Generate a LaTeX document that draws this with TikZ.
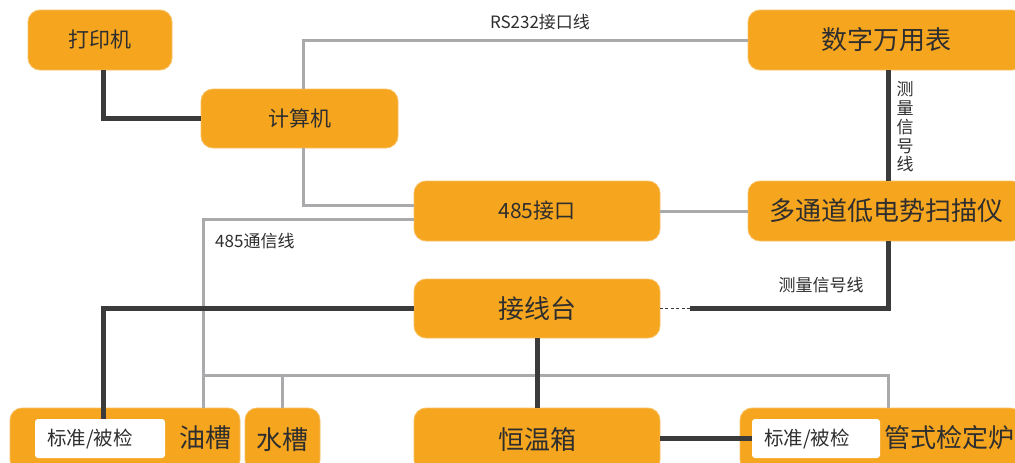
\documentclass[tikz,border=0pt]{standalone}
\usepackage{fontspec}
\setmainfont{Noto Sans CJK SC}
\definecolor{boxorange}{HTML}{F6A51F}
\definecolor{darkwire}{HTML}{3B3B3B}
\definecolor{graywire}{HTML}{AAAAAD}
\definecolor{inktext}{HTML}{2E2E2E}
\tikzset{
    unitbox/.style={rounded corners=12pt, fill=boxorange, draw=boxorange!70!white, line width=0.8pt, text=inktext, inner sep=0pt},
    tagbox/.style={rounded corners=3pt, fill=white, text=inktext, inner ysep=0pt, inner xsep=12pt, text width=106pt, align=left, minimum height=39pt, font=\fontsize{19.5}{22}\selectfont},
    bigtext/.style={font=\fontsize{26}{30}\selectfont},
    midtext/.style={font=\fontsize{21}{24}\selectfont},
    wirelabel/.style={text=inktext, inner sep=0pt, font=\fontsize{17}{18.75}\selectfont},
    sigwire/.style={draw=darkwire, line width=5pt},
    buswire/.style={draw=graywire, line width=3pt},
}
\begin{document}
\begin{tikzpicture}[x=1pt, y=-1pt]
    \useasboundingbox (0,0) rectangle (1015,463);
    \clip (0,0) rectangle (1015,463);

    % instruments (pixel positions, y downwards)
    \node[unitbox, midtext, minimum width=144pt, minimum height=60pt] (printer) at (100,40) {打印机};
    \node[unitbox, midtext, minimum width=197pt, minimum height=59pt] (computer) at (299.5,118.5) {计算机};
    \node[unitbox, bigtext, minimum width=276pt, minimum height=60pt] (meter) at (886,40) {数字万用表};
    \node[unitbox, midtext, minimum width=246pt, minimum height=60pt] (port) at (537,211) {485接口};
    \node[unitbox, bigtext, minimum width=276pt, minimum height=60pt] (scanner) at (886,211) {多通道低电势扫描仪};
    \node[unitbox, bigtext, minimum width=246pt, minimum height=59pt] (terminal) at (537,308.5) {接线台};

    % baths and furnace, cut off by the lower edge
    \node[unitbox, minimum width=230pt, minimum height=64pt] (oilbath) at (125,440) {};
    \node[unitbox, bigtext, minimum width=75pt, minimum height=64pt] (waterbath) at (282.5,440) {\raisebox{1pt}{水槽}};
    \node[unitbox, bigtext, minimum width=246pt, minimum height=64pt] (oven) at (537,440) {\raisebox{1pt}{恒温箱}};
    \node[unitbox, minimum width=282pt, minimum height=64pt] (furnace) at (881,440) {};
    \node[tagbox] (oiltag) at (100,438.5) {标准/被检};
    \node[bigtext, text=inktext, inner sep=0pt] (oilname) at (205,438) {油槽};
    \node[tagbox, text width=104pt] (furntag) at (816,438.5) {标准/被检};
    \node[bigtext, text=inktext, inner sep=0pt, anchor=west] (furnname) at (884,438) {管式检定炉};

    % gray communication wires
    \coordinate (busL) at (203,375);
    \coordinate (busR) at (888,375);
    \draw[buswire] ([xshift=3.5pt]computer.north) |- (meter.west);
    \draw[buswire] ([xshift=3.5pt]computer.south) |- ([yshift=6pt]port.west);
    \draw[buswire] ([yshift=-8pt]port.west) -| (busL) -- (busL |- oilbath.north);
    \draw[buswire] (port.east) -- (scanner.west);
    \draw[buswire] (busL) -- (busR) -- (busR |- furnace.north);
    \draw[buswire] (waterbath.north |- busL) -- (waterbath.north);

    % dark signal wires
    \coordinate (sigend) at (690,308.5);
    \draw[sigwire] ([xshift=3pt]printer.south) |- (computer.west);
    \draw[sigwire] ([xshift=2pt]meter.south) -- ([xshift=2pt]scanner.north);
    \draw[sigwire] ([xshift=2pt]scanner.south) |- (sigend);
    \draw[darkwire, line width=1.3pt, dash pattern=on 3pt off 2.5pt] (sigend) -- (terminal.east);
    \draw[sigwire] (terminal.west) -| ([xshift=3pt]oiltag.north);
    \draw[sigwire] (terminal.south) -- (oven.north);
    \draw[sigwire] (oven.east |- furntag.west) -- (furntag.west);

    % wire labels
    \node[wirelabel] (rslabel) at (540,22) {RS232接口线};
    \node[wirelabel, anchor=west] (buslabel) at (215,241) {485通信线};
    \node[wirelabel] (siglabel) at (821,285) {测量信号线};
    \node[wirelabel, align=center] (vsiglabel) at (905,127) {测\\量\\信\\号\\线};
\end{tikzpicture}
\end{document}
